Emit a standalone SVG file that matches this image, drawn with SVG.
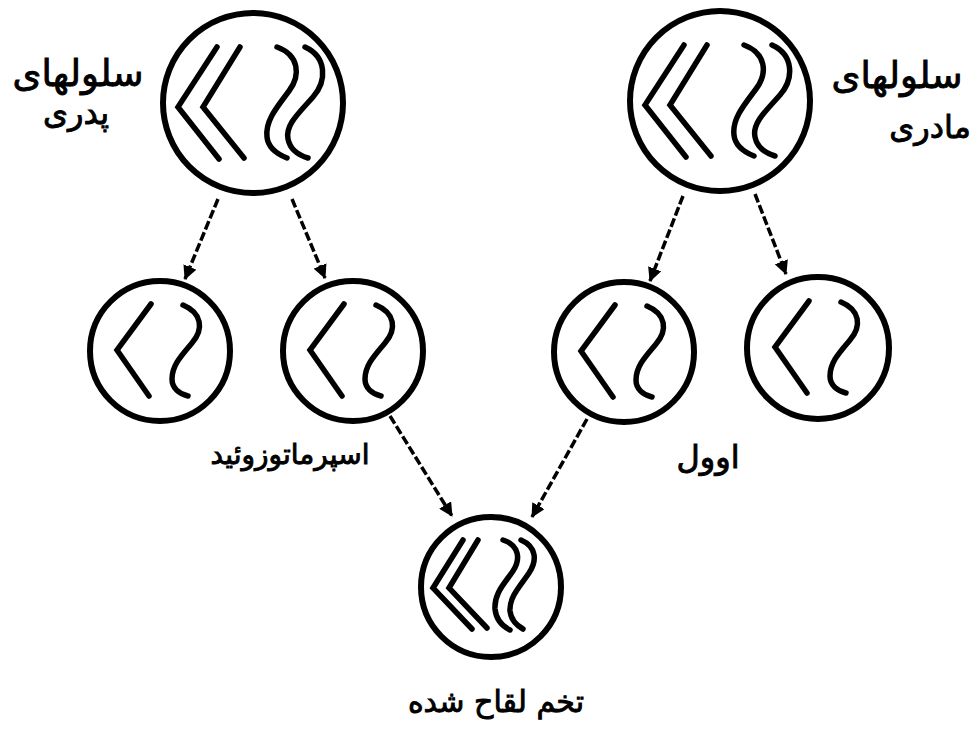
<svg xmlns="http://www.w3.org/2000/svg" xmlns:xlink="http://www.w3.org/1999/xlink" width="971" height="733" viewBox="0 0 971 733">
  <style>
    .cell { fill: #fff; stroke: #000; stroke-width: 6; }
    .chromo { fill: none; stroke: #000; stroke-width: 5.5; stroke-linecap: round; stroke-linejoin: miter; }
    .link { fill: none; stroke: #000; stroke-width: 3.5; stroke-dasharray: 9 3; }
    .label { font-family: "DejaVu Sans", "Noto Sans", sans-serif; font-size: 32px; fill: #000; stroke: #000; stroke-width: 0.9; text-anchor: middle; }
  </style>
  <defs>
    <marker id="head" markerUnits="userSpaceOnUse" markerWidth="16" markerHeight="14" refX="13" refY="7" orient="auto">
      <path d="M0,0 L14,7 L0,14 z" fill="#000"/>
    </marker>
    <!-- diploid set: two chevrons and two S-shaped chromosomes -->
    <g id="pairLarge">
      <path class="chromo" d="M-36,-56 L-75,4 L-34,56"/>
      <path class="chromo" d="M-13,-56 L-50,4 L-9,55"/>
      <path class="chromo" d="M24,-56 C46,-48 48,-28 36,-12 C24,4 12,18 14,34 C15,44 24,51 34,55"/>
      <path class="chromo" d="M52,-56 C74,-46 74,-22 60,-6 C46,10 32,22 35,36 C37,46 45,52 55,55"/>
    </g>
    <g id="pairZygote">
      <path class="chromo" d="M-28,-47 L-58,1 L-19,42"/>
      <path class="chromo" d="M-13,-47 L-42,1 L-4,41"/>
      <path class="chromo" d="M12,-47 C28,-42 30,-28 22,-16 C14,-4 3,6 4,22 C5,32 11,39 19,43"/>
      <path class="chromo" d="M30,-47 C46,-40 46,-26 38,-14 C30,-2 18,10 19,24 C20,33 25,38 32,42"/>
    </g>
    <!-- haploid set: one chevron and one S-shaped chromosome -->
    <g id="single">
      <path class="chromo" d="M-9,-47 L-43,-1 L-11,45"/>
      <path class="chromo" d="M23,-46 C42,-38 44,-22 32,-8 C22,4 12,14 12,28 C12,37 19,43 28,45"/>
    </g>
  </defs>

  <!-- paternal cell -->
  <g id="paternal">
    <circle class="cell" cx="253" cy="103" r="90"/>
    <use xlink:href="#pairLarge" transform="translate(253,103)"/>
    <text class="label" x="78" y="86" style="font-size:37px">سلولهای</text>
    <text class="label" x="76" y="124">پدری</text>
  </g>

  <!-- maternal cell -->
  <g id="maternal">
    <circle class="cell" cx="720" cy="101" r="90"/>
    <use xlink:href="#pairLarge" transform="translate(720,101)"/>
    <text class="label" x="897" y="88" style="font-size:37px">سلولهای</text>
    <text class="label" x="930" y="138">مادری</text>
  </g>

  <!-- gametes -->
  <g id="sperm1">
    <circle class="cell" cx="160" cy="351" r="70"/>
    <use xlink:href="#single" transform="translate(160,351)"/>
  </g>
  <g id="sperm2">
    <circle class="cell" cx="353" cy="351" r="70"/>
    <use xlink:href="#single" transform="translate(353,351)"/>
  </g>
  <g id="ovum1">
    <circle class="cell" cx="624" cy="352" r="70"/>
    <use xlink:href="#single" transform="translate(624,352)"/>
  </g>
  <g id="ovum2">
    <circle class="cell" cx="818" cy="348" r="71"/>
    <use xlink:href="#single" transform="translate(818,348)"/>
  </g>
  <g id="spermLabel">
    <text class="label" x="290" y="464" style="font-size:28px">اسپرماتوزوئید</text>
  </g>
  <g id="ovumLabel">
    <text class="label" x="708" y="468">اوول</text>
  </g>

  <!-- fertilized egg -->
  <g id="zygote">
    <circle class="cell" cx="491" cy="587" r="70"/>
    <use xlink:href="#pairZygote" transform="translate(491,587)"/>
    <text class="label" x="496" y="712" style="font-size:30px">تخم لقاح شده</text>
  </g>

  <g id="connectors">
    <path class="link" marker-end="url(#head)" d="M218,199 L185,279"/>
    <path class="link" marker-end="url(#head)" d="M292,199 L325,278"/>
    <path class="link" marker-end="url(#head)" d="M683,196 L650,281"/>
    <path class="link" marker-end="url(#head)" d="M755,194 L786,274"/>
    <path class="link" marker-end="url(#head)" d="M390,416 L452,516"/>
    <path class="link" marker-end="url(#head)" d="M587,419 L532,517"/>
  </g>
</svg>
